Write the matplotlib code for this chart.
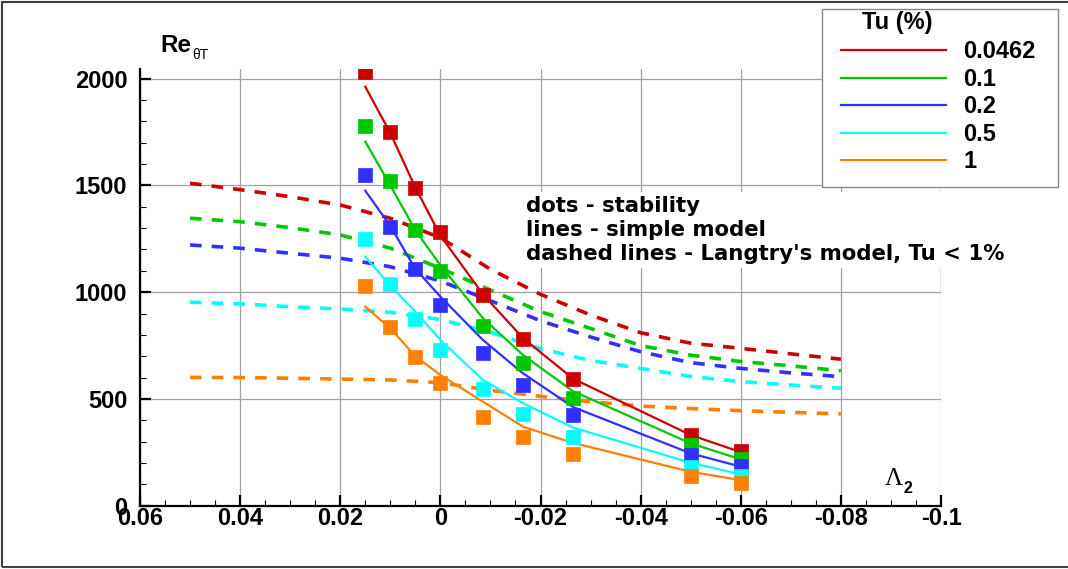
import numpy as np
import matplotlib
matplotlib.use("Agg")
import matplotlib.pyplot as plt
from matplotlib.lines import Line2D
from matplotlib.patches import Rectangle
from matplotlib.ticker import MultipleLocator, FuncFormatter

plt.rcParams['font.family'] = ['Liberation Sans', 'DejaVu Sans']
plt.rcParams['font.weight'] = 'bold'

# stability points and simple model share the same lambda_2 positions
lam = [0.015, 0.01, 0.005, 0.0, -0.0085, -0.0165, -0.0265, -0.05, -0.06]

tu_labels = ['0.0462', '0.1', '0.2', '0.5', '1']
colors = ['#cc0000', '#00c800', '#3030ff', '#00ffff', '#ff8000']

# dots - stability
stab_red = [2030, 1749, 1489, 1280, 987, 781, 591, 330, 255]
stab_green = [1780, 1521, 1291, 1101, 843, 667, 505, 282, 220]
stab_blue = [1549, 1307, 1109, 940, 717, 565, 426, 238, 184]
stab_cyan = [1249, 1038, 874, 729, 546, 428, 321, 180, 138]
stab_orange = [1029, 838, 695, 573, 417, 323, 243, 137, 107]

# lines - simple model
simple_red = [1962, 1745, 1490, 1265, 990, 785, 595, 331, 251]
simple_green = [1705, 1500, 1290, 1126, 878, 706, 536, 292, 217]
simple_blue = [1475, 1310, 1109, 979, 776, 620, 462, 245, 183]
simple_cyan = [1166, 1030, 909, 776, 589, 480, 366, 201, 147]
simple_orange = [932, 831, 700, 612, 487, 370, 294, 159, 120]

# dashed lines - Langtry's model
lam_lt = [0.05, 0.04, 0.03, 0.02, 0.01, 0.0, -0.01, -0.02, -0.03, -0.04, -0.05, -0.06, -0.07, -0.08]
lt_red = [1510, 1480, 1447, 1408, 1346, 1255, 1107, 990, 893, 810, 761, 737, 711, 686]
lt_green = [1346, 1330, 1302, 1268, 1206, 1112, 1010, 909, 830, 750, 705, 675, 655, 632]
lt_blue = [1221, 1206, 1182, 1159, 1119, 1052, 960, 866, 790, 721, 670, 643, 622, 604]
lt_cyan = [953, 945, 932, 921, 906, 872, 812, 735, 680, 643, 605, 581, 565, 550]
lt_orange = [601, 600, 597, 593, 589, 576, 540, 512, 487, 467, 455, 445, 437, 430]

stab = [stab_red, stab_green, stab_blue, stab_cyan, stab_orange]
simple = [simple_red, simple_green, simple_blue, simple_cyan, simple_orange]
langtry = [lt_red, lt_green, lt_blue, lt_cyan, lt_orange]

W, H = 1068, 569
fig = plt.figure(figsize=(W / 100, H / 100), dpi=100)

def fx(px):
    return px / W

def fy(py):
    return 1 - py / H

ax = fig.add_axes([fx(140), fy(505.7), (941 - 140) / W, (505.7 - 69) / H])

for c, yl in zip(colors, langtry):
    ax.plot(lam_lt, yl, color=c, lw=2.6, dashes=(3.2, 2.8), zorder=2)
for c, ys in zip(colors, simple):
    ax.plot(lam, ys, color=c, lw=1.6, zorder=2.5)
for c, yp in zip(colors, stab):
    ax.plot(lam, yp, ls='none', marker='s', ms=10.5, mfc=c, mec=c, mew=0.5, zorder=3)

ax.set_xlim(0.06, -0.1)
ax.set_ylim(0, 2045)
ax.xaxis.set_major_locator(MultipleLocator(0.02))
ax.xaxis.set_minor_locator(MultipleLocator(0.005))
ax.yaxis.set_major_locator(MultipleLocator(500))
ax.yaxis.set_minor_locator(MultipleLocator(100))
ax.xaxis.set_major_formatter(FuncFormatter(lambda v, p: '%g' % round(v, 4) if abs(v) > 1e-9 else '0'))
ax.yaxis.set_major_formatter(FuncFormatter(lambda v, p: '%d' % v))

for s in ['top', 'right']:
    ax.spines[s].set_visible(False)
for s in ['left', 'bottom']:
    ax.spines[s].set_linewidth(1.6)

ax.tick_params(which='major', direction='in', length=8, width=1.6, labelsize=17)
ax.tick_params(which='minor', direction='in', length=4.5, width=0.8)
ax.tick_params(axis='x', which='major', pad=1)
ax.tick_params(axis='y', which='major', pad=9)

ax.grid(True, which='major', color='#a0a0a0', lw=0.9)
ax.xaxis.get_gridlines()[-1].set_visible(False)
ax.axvline(-0.1, ymin=1000 / 2045, color='#a0a0a0', lw=0.9, zorder=1.5)

ax.text(-0.0171, 1449,
        "dots - stability\nlines - simple model\ndashed lines - Langtry's model, Tu < 1%",
        fontsize=15.3, fontweight='bold', family=['DejaVu Sans'], va='top', ha='left',
        linespacing=1.24, bbox=dict(facecolor='white', edgecolor='none', pad=3), zorder=4)

# axis titles
fig.text(fx(160), fy(52.3), 'Re', fontsize=17.5, fontweight='bold', va='baseline')
fig.text(fx(192), fy(59.3), 'θT', fontsize=10, fontweight='normal', va='baseline')
fig.text(fx(885), fy(485), 'Λ', fontsize=18, fontweight='normal',
         family=['Liberation Serif', 'DejaVu Serif'], va='baseline')
fig.text(fx(903), fy(493), '2', fontsize=11.5, fontweight='bold', va='baseline')

# legend
fig.add_artist(Rectangle((fx(821.7), fy(187)), (1058 - 821.7) / W, (187 - 9.3) / H,
                         transform=fig.transFigure, facecolor='white',
                         edgecolor='#888888', lw=1, zorder=2))
fig.text(fx(862), fy(29.3), 'Tu (%)', fontsize=17, fontweight='bold', va='baseline', zorder=3)
handles = [Line2D([], [], color=c, lw=1.6) for c in colors]
fig.legend(handles, tu_labels, loc='upper left', bbox_to_anchor=(fx(840.7), fy(40.5)),
           frameon=False, fontsize=17, handlelength=4.45, handletextpad=0.74,
           labelspacing=0.19, borderpad=0, borderaxespad=0).set_zorder(5)

# outer frame
fig.add_artist(Rectangle((fx(1.5), fy(567)), 1.2, (567 - 1.5) / H,
                         transform=fig.transFigure, facecolor='none',
                         edgecolor='#404040', lw=1.5, zorder=6))

fig.savefig('out.png', dpi=100)
